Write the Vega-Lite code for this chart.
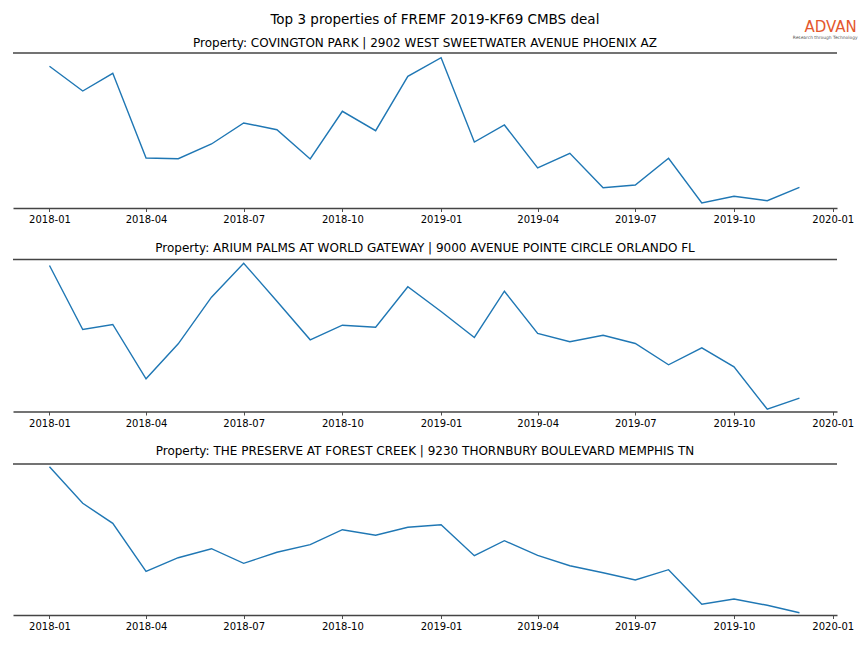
{
  "$schema": "https://vega.github.io/schema/vega-lite/v6.json",
  "padding": {"left": 12, "top": 13, "right": 5, "bottom": 5},
  "title": {"text": "Top 3 properties of FREMF 2019-KF69 CMBS deal", "fontSize": 13.5, "fontWeight": "normal", "color": "#000", "anchor": "middle", "offset": 0, "dy": 6.7},
  "spacing": 16.5,
  "config": {
    "font": "DejaVu Sans",
    "view": {"stroke": null},
    "title": {"fontWeight": "normal", "color": "#000", "font": "DejaVu Sans"},
    "axisX": {
      "format": "%Y-%m",
      "title": null,
      "grid": false,
      "domainColor": "#444444",
      "domainWidth": 1.6,
      "tickColor": "#222222",
      "tickSize": 3.5,
      "tickWidth": 0.8,
      "labelFontSize": 10,
      "labelColor": "#000000",
      "labelPadding": 3,
      "labelFlush": false,
      "labelOverlap": false
    }
  },
  "datasets": {
    "rows": [
      {"panel": 1, "date": "2018-01-01", "value": 141.7},
      {"panel": 1, "date": "2018-02-01", "value": 117},
      {"panel": 1, "date": "2018-03-01", "value": 134.7},
      {"panel": 1, "date": "2018-04-01", "value": 50},
      {"panel": 1, "date": "2018-05-01", "value": 49.3},
      {"panel": 1, "date": "2018-06-01", "value": 64},
      {"panel": 1, "date": "2018-07-01", "value": 85},
      {"panel": 1, "date": "2018-08-01", "value": 78.3},
      {"panel": 1, "date": "2018-09-01", "value": 49},
      {"panel": 1, "date": "2018-10-01", "value": 96.7},
      {"panel": 1, "date": "2018-11-01", "value": 77.3},
      {"panel": 1, "date": "2018-12-01", "value": 131.7},
      {"panel": 1, "date": "2019-01-01", "value": 150.3},
      {"panel": 1, "date": "2019-02-01", "value": 66},
      {"panel": 1, "date": "2019-03-01", "value": 83},
      {"panel": 1, "date": "2019-04-01", "value": 40},
      {"panel": 1, "date": "2019-05-01", "value": 54.7},
      {"panel": 1, "date": "2019-06-01", "value": 20.3},
      {"panel": 1, "date": "2019-07-01", "value": 23},
      {"panel": 1, "date": "2019-08-01", "value": 49.7},
      {"panel": 1, "date": "2019-09-01", "value": 5},
      {"panel": 1, "date": "2019-10-01", "value": 11.7},
      {"panel": 1, "date": "2019-11-01", "value": 7.3},
      {"panel": 1, "date": "2019-12-01", "value": 20.7},
      {"panel": 2, "date": "2018-01-01", "value": 146},
      {"panel": 2, "date": "2018-02-01", "value": 82},
      {"panel": 2, "date": "2018-03-01", "value": 87},
      {"panel": 2, "date": "2018-04-01", "value": 32.7},
      {"panel": 2, "date": "2018-05-01", "value": 67.7},
      {"panel": 2, "date": "2018-06-01", "value": 114.3},
      {"panel": 2, "date": "2018-07-01", "value": 148.3},
      {"panel": 2, "date": "2018-08-01", "value": 110.3},
      {"panel": 2, "date": "2018-09-01", "value": 71.7},
      {"panel": 2, "date": "2018-10-01", "value": 86.3},
      {"panel": 2, "date": "2018-11-01", "value": 84.3},
      {"panel": 2, "date": "2018-12-01", "value": 124.7},
      {"panel": 2, "date": "2019-01-01", "value": 100},
      {"panel": 2, "date": "2019-02-01", "value": 74},
      {"panel": 2, "date": "2019-03-01", "value": 120.3},
      {"panel": 2, "date": "2019-04-01", "value": 78},
      {"panel": 2, "date": "2019-05-01", "value": 69.7},
      {"panel": 2, "date": "2019-06-01", "value": 76.3},
      {"panel": 2, "date": "2019-07-01", "value": 68},
      {"panel": 2, "date": "2019-08-01", "value": 46.7},
      {"panel": 2, "date": "2019-09-01", "value": 63.7},
      {"panel": 2, "date": "2019-10-01", "value": 44.7},
      {"panel": 2, "date": "2019-11-01", "value": 2.3},
      {"panel": 2, "date": "2019-12-01", "value": 13.3},
      {"panel": 3, "date": "2018-01-01", "value": 148.3},
      {"panel": 3, "date": "2018-02-01", "value": 111.7},
      {"panel": 3, "date": "2018-03-01", "value": 91.7},
      {"panel": 3, "date": "2018-04-01", "value": 43.7},
      {"panel": 3, "date": "2018-05-01", "value": 57.3},
      {"panel": 3, "date": "2018-06-01", "value": 66.3},
      {"panel": 3, "date": "2018-07-01", "value": 51.7},
      {"panel": 3, "date": "2018-08-01", "value": 62.7},
      {"panel": 3, "date": "2018-09-01", "value": 70.3},
      {"panel": 3, "date": "2018-10-01", "value": 85.3},
      {"panel": 3, "date": "2018-11-01", "value": 79.7},
      {"panel": 3, "date": "2018-12-01", "value": 87.7},
      {"panel": 3, "date": "2019-01-01", "value": 90.3},
      {"panel": 3, "date": "2019-02-01", "value": 59.3},
      {"panel": 3, "date": "2019-03-01", "value": 74.3},
      {"panel": 3, "date": "2019-04-01", "value": 59.7},
      {"panel": 3, "date": "2019-05-01", "value": 49.3},
      {"panel": 3, "date": "2019-06-01", "value": 42.3},
      {"panel": 3, "date": "2019-07-01", "value": 35},
      {"panel": 3, "date": "2019-08-01", "value": 45.3},
      {"panel": 3, "date": "2019-09-01", "value": 10.7},
      {"panel": 3, "date": "2019-10-01", "value": 16},
      {"panel": 3, "date": "2019-11-01", "value": 9.7},
      {"panel": 3, "date": "2019-12-01", "value": 2.3}
    ]
  },
  "vconcat": [
    {
      "width": 824,
      "height": 155,
      "title": {"text": "Property: COVINGTON PARK | 2902 WEST SWEETWATER AVENUE PHOENIX AZ", "fontSize": 12, "frame": "group", "offset": -3, "dy": 27.2},
      "layer": [
        {
          "data": {"name": "rows"},
          "transform": [{"filter": "datum.panel == 1"}],
          "mark": {"type": "line", "color": "#1f77b4", "strokeWidth": 1.4},
          "encoding": {
            "x": {"field": "date", "type": "temporal",
              "scale": {"type": "utc", "domain": [{"year": 2017, "month": 11, "date": 28, "utc": true}, {"year": 2020, "month": 1, "date": 5, "utc": true}]},
              "axis": {"values": [
                {"year": 2018, "month": 1, "date": 1, "utc": true},
                {"year": 2018, "month": 4, "date": 1, "utc": true},
                {"year": 2018, "month": 7, "date": 1, "utc": true},
                {"year": 2018, "month": 10, "date": 1, "utc": true},
                {"year": 2019, "month": 1, "date": 1, "utc": true},
                {"year": 2019, "month": 4, "date": 1, "utc": true},
                {"year": 2019, "month": 7, "date": 1, "utc": true},
                {"year": 2019, "month": 10, "date": 1, "utc": true},
                {"year": 2020, "month": 1, "date": 1, "utc": true}
              ]}},
            "y": {"field": "value", "type": "quantitative", "scale": {"domain": [0, 155], "nice": false, "zero": false}, "axis": null}
          }
        },
        {
          "data": {"values": [{"edge": "top"}]},
          "mark": {"type": "rule", "color": "#444444", "strokeWidth": 1.6},
          "encoding": {"y": {"datum": 155, "type": "quantitative"}}
        },
        {
          "data": {"values": [{"t": "ADVAN"}]},
          "mark": {"type": "text", "fontSize": 15, "color": "#e4572e", "align": "center", "baseline": "middle"},
          "encoding": {
            "text": {"field": "t"},
            "x": {"datum": {"year": 2019, "month": 12, "date": 30, "utc": true}, "type": "temporal"},
            "y": {"datum": 181, "type": "quantitative"}
          }
        },
        {
          "data": {"values": [{"t": "Research through Technology"}]},
          "mark": {"type": "text", "fontSize": 4.4, "color": "#555555", "align": "center", "baseline": "middle"},
          "encoding": {
            "text": {"field": "t"},
            "x": {"datum": {"year": 2019, "month": 12, "date": 25, "utc": true}, "type": "temporal"},
            "y": {"datum": 170, "type": "quantitative"}
          }
        }
      ]
    },
    {
      "width": 824,
      "height": 152,
      "title": {"text": "Property: ARIUM PALMS AT WORLD GATEWAY | 9000 AVENUE POINTE CIRCLE ORLANDO FL", "fontSize": 12, "frame": "group", "offset": 4},
      "layer": [
        {
          "data": {"name": "rows"},
          "transform": [{"filter": "datum.panel == 2"}],
          "mark": {"type": "line", "color": "#1f77b4", "strokeWidth": 1.4},
          "encoding": {
            "x": {"field": "date", "type": "temporal",
              "scale": {"type": "utc", "domain": [{"year": 2017, "month": 11, "date": 28, "utc": true}, {"year": 2020, "month": 1, "date": 5, "utc": true}]},
              "axis": {"values": [
                {"year": 2018, "month": 1, "date": 1, "utc": true},
                {"year": 2018, "month": 4, "date": 1, "utc": true},
                {"year": 2018, "month": 7, "date": 1, "utc": true},
                {"year": 2018, "month": 10, "date": 1, "utc": true},
                {"year": 2019, "month": 1, "date": 1, "utc": true},
                {"year": 2019, "month": 4, "date": 1, "utc": true},
                {"year": 2019, "month": 7, "date": 1, "utc": true},
                {"year": 2019, "month": 10, "date": 1, "utc": true},
                {"year": 2020, "month": 1, "date": 1, "utc": true}
              ]}},
            "y": {"field": "value", "type": "quantitative", "scale": {"domain": [0, 152], "nice": false, "zero": false}, "axis": null}
          }
        },
        {
          "data": {"values": [{"edge": "top"}]},
          "mark": {"type": "rule", "color": "#444444", "strokeWidth": 1.6},
          "encoding": {"y": {"datum": 152, "type": "quantitative"}}
        }
      ]
    },
    {
      "width": 824,
      "height": 151,
      "title": {"text": "Property: THE PRESERVE AT FOREST CREEK | 9230 THORNBURY BOULEVARD MEMPHIS TN", "fontSize": 12, "frame": "group", "offset": 5},
      "layer": [
        {
          "data": {"name": "rows"},
          "transform": [{"filter": "datum.panel == 3"}],
          "mark": {"type": "line", "color": "#1f77b4", "strokeWidth": 1.4},
          "encoding": {
            "x": {"field": "date", "type": "temporal",
              "scale": {"type": "utc", "domain": [{"year": 2017, "month": 11, "date": 28, "utc": true}, {"year": 2020, "month": 1, "date": 5, "utc": true}]},
              "axis": {"values": [
                {"year": 2018, "month": 1, "date": 1, "utc": true},
                {"year": 2018, "month": 4, "date": 1, "utc": true},
                {"year": 2018, "month": 7, "date": 1, "utc": true},
                {"year": 2018, "month": 10, "date": 1, "utc": true},
                {"year": 2019, "month": 1, "date": 1, "utc": true},
                {"year": 2019, "month": 4, "date": 1, "utc": true},
                {"year": 2019, "month": 7, "date": 1, "utc": true},
                {"year": 2019, "month": 10, "date": 1, "utc": true},
                {"year": 2020, "month": 1, "date": 1, "utc": true}
              ]}},
            "y": {"field": "value", "type": "quantitative", "scale": {"domain": [0, 151], "nice": false, "zero": false}, "axis": null}
          }
        },
        {
          "data": {"values": [{"edge": "top"}]},
          "mark": {"type": "rule", "color": "#444444", "strokeWidth": 1.6},
          "encoding": {"y": {"datum": 151, "type": "quantitative"}}
        }
      ]
    }
  ]
}
